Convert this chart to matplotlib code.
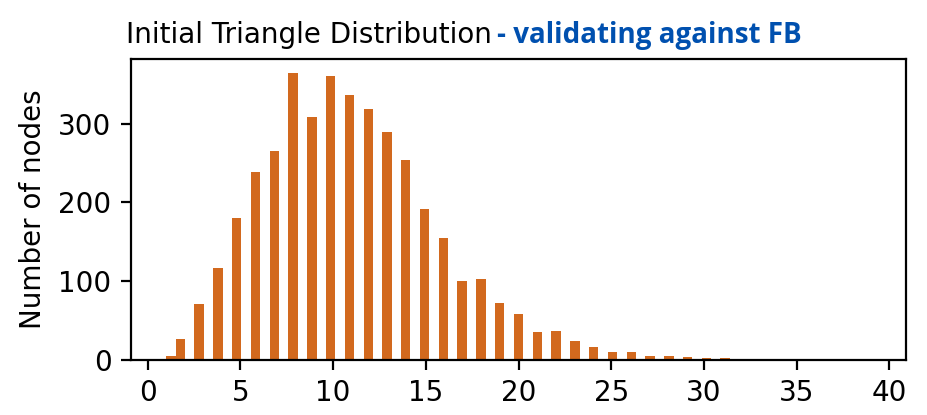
import numpy as np
import matplotlib
matplotlib.use('Agg')
import matplotlib.pyplot as plt

# triangles per node (integer values) and how many nodes have that count
tri_values = list(range(1, 40))
node_counts = [5, 26, 71, 117, 180, 239, 265, 364, 308, 360,
               337, 318, 289, 254, 192, 154, 100, 103, 72, 58,
               35, 36, 24, 16, 10, 10, 5, 5, 3, 2,
               2, 0, 0, 0, 0, 0, 0, 0, 0]

x_ticks = [0, 5, 10, 15, 20, 25, 30, 35, 40]
y_ticks = [0, 100, 200, 300]

fig = plt.figure(figsize=(927 / 200, 415 / 200), dpi=200)
ax = fig.add_axes([131 / 927, 55.5 / 415, 775 / 927, 300.5 / 415])

ax.hist(tri_values, bins=75, weights=node_counts, color='#D2691E')
ax.set_xticks(x_ticks)
ax.set_yticks(y_ticks)
ax.set_ylabel('Number of nodes')

fig.text(126 / 927, (415 - 43) / 415, 'Initial Triangle Distribution',
         fontsize=10, color='black', ha='left', va='baseline')
fig.text(497 / 927, (415 - 43) / 415, '- validating against FB',
         fontsize=10, color='#0050AF', fontweight='bold', family='Open Sans',
         ha='left', va='baseline')

fig.savefig('out.png', dpi=200)
